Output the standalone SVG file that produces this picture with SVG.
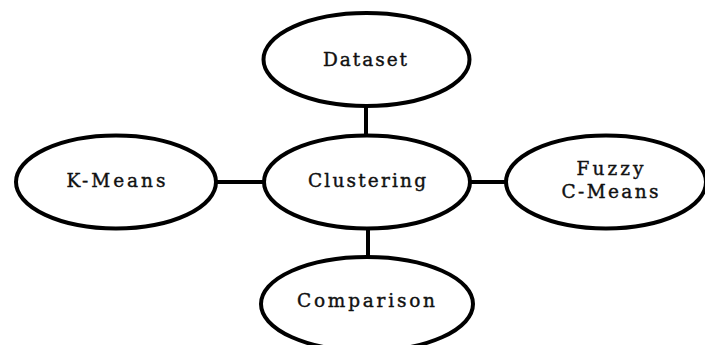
<svg xmlns="http://www.w3.org/2000/svg" width="705" height="345" viewBox="0 0 705 345">
<style>
.node ellipse{fill:#fff;stroke:#000;stroke-width:4}
.node text{font-family:"DejaVu Serif","Liberation Serif",serif;font-size:18.5px;fill:#111;stroke:#111;stroke-width:0.4;text-anchor:middle}
#connectors line{stroke:#000;stroke-width:4}
</style>
<rect width="705" height="345" fill="#fff"/>
<g id="connectors">
<line x1="366" y1="106" x2="366" y2="136"/>
<line x1="368" y1="228" x2="368" y2="258"/>
<line x1="216" y1="182" x2="264" y2="182"/>
<line x1="470" y1="182" x2="506" y2="182"/>
</g>
<g id="dataset" class="node">
<ellipse cx="366.5" cy="59.5" rx="103" ry="46.5"/>
<text x="365" y="66" textLength="84" lengthAdjust="spacing">Dataset</text>
</g>
<g id="clustering" class="node">
<ellipse cx="367" cy="182" rx="103" ry="46.5"/>
<text x="367" y="187" textLength="118" lengthAdjust="spacing">Clustering</text>
</g>
<g id="kmeans" class="node">
<ellipse cx="116" cy="182" rx="100" ry="46.5"/>
<text x="116" y="187" textLength="99" lengthAdjust="spacing">K-Means</text>
</g>
<g id="fuzzy" class="node">
<ellipse cx="606" cy="182" rx="100" ry="46.5"/>
<text x="610" y="175" textLength="67" lengthAdjust="spacing">Fuzzy</text>
<text x="610" y="198" textLength="97" lengthAdjust="spacing">C-Means</text>
</g>
<g id="comparison" class="node">
<ellipse cx="367" cy="304" rx="106" ry="47"/>
<text x="366" y="307" textLength="138" lengthAdjust="spacing">Comparison</text>
</g>
</svg>
